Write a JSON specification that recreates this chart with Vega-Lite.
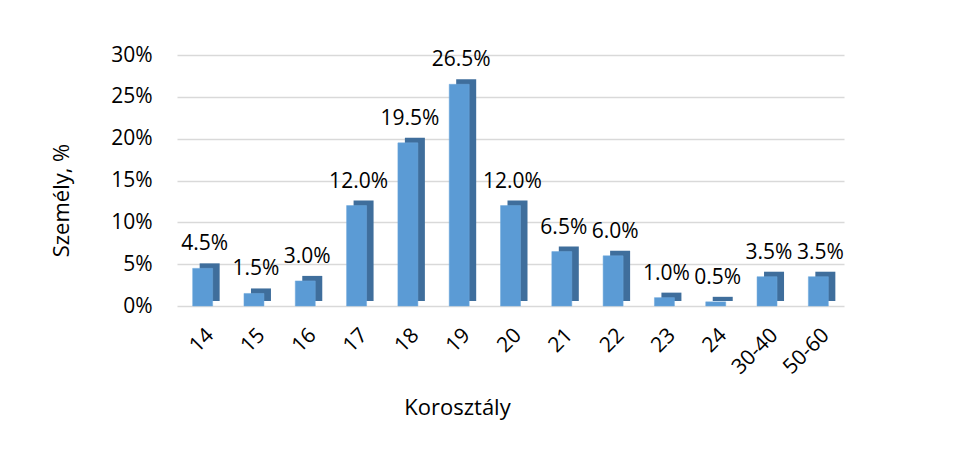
{
  "$schema": "https://vega.github.io/schema/vega-lite/v6.json",
  "autosize": "none",
  "width": 733,
  "height": 251,
  "padding": {"left": 172, "top": 55, "right": 50, "bottom": 152},
  "background": "white",
  "config": {
    "view": {"stroke": null},
    "font": "Open Sans",
    "axis": {"labelFont": "Open Sans", "titleFont": "Open Sans", "labelColor": "#000000", "titleColor": "#000000", "titleFontWeight": "normal"}
  },
  "data": {
    "values": [
      {"age": "14", "pct": 0.045},
      {"age": "15", "pct": 0.015},
      {"age": "16", "pct": 0.030},
      {"age": "17", "pct": 0.120},
      {"age": "18", "pct": 0.195},
      {"age": "19", "pct": 0.265},
      {"age": "20", "pct": 0.120},
      {"age": "21", "pct": 0.065},
      {"age": "22", "pct": 0.060},
      {"age": "23", "pct": 0.010},
      {"age": "24", "pct": 0.005},
      {"age": "30-40", "pct": 0.035},
      {"age": "50-60", "pct": 0.035}
    ]
  },
  "encoding": {
    "x": {
      "field": "age", "type": "nominal", "sort": null,
      "scale": {"range": [5, 672], "paddingInner": 0, "paddingOuter": 0},
      "axis": {
        "title": "Korosztály", "titleFontSize": 22, "titlePadding": 20,
        "titleX": 285, "titleAlign": "center",
        "labelAngle": -45, "labelFontSize": 21, "labelPadding": 18,
        "ticks": false, "domain": false, "grid": false
      }
    },
    "y": {
      "field": "pct", "type": "quantitative",
      "scale": {"domain": [0, 0.3]},
      "axis": {
        "title": "Személy, %", "titleFontSize": 22, "titleX": -99, "titleY": 145,
        "format": ".0%", "values": [0, 0.05, 0.1, 0.15, 0.2, 0.25, 0.3],
        "labelFontSize": 21, "labelPadding": 20,
        "ticks": false, "domain": false,
        "gridColor": "#D9D9D9", "gridWidth": 1.5
      }
    }
  },
  "layer": [
    {"mark": {"type": "bar", "size": 20, "xOffset": 7, "yOffset": -5, "color": "#3F6E9C"}},
    {"mark": {"type": "bar", "size": 20, "color": "#5B9BD5", "stroke": "#6FA8DC", "strokeWidth": 0.5}},
    {
      "mark": {"type": "text", "baseline": "bottom", "dy": -14, "xOffset": 2, "fontSize": 21, "font": "Open Sans", "color": "#000000"},
      "encoding": {"text": {"field": "pct", "type": "quantitative", "format": ".1%"}}
    }
  ]
}
